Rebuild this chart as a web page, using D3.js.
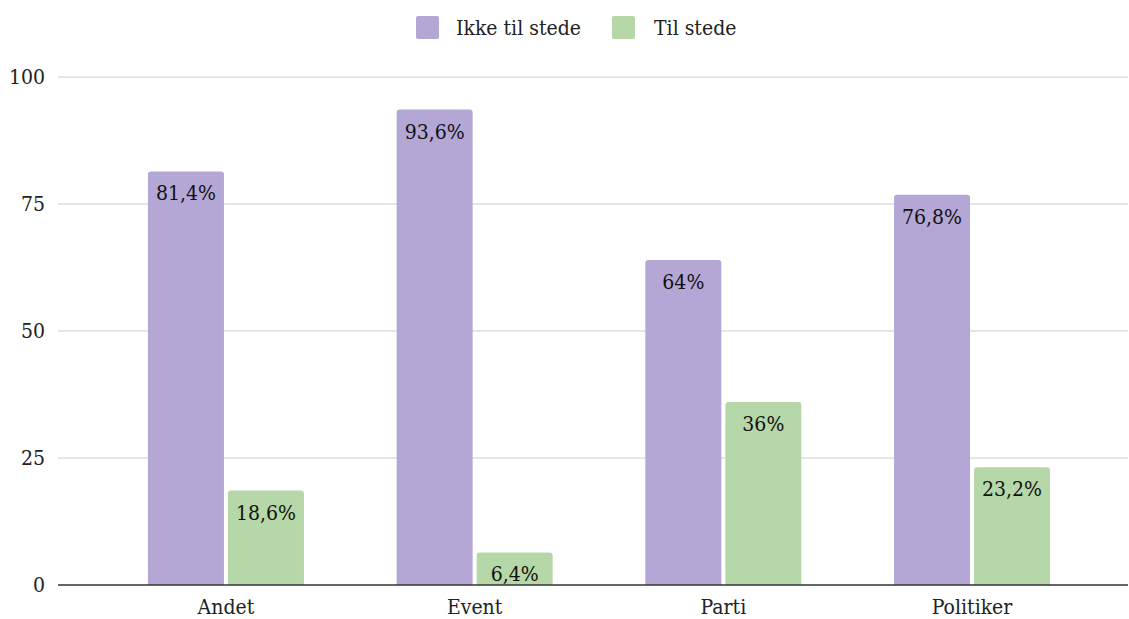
<!DOCTYPE html>
<html>
<head>
<meta charset="utf-8">
<script src="https://cdn.jsdelivr.net/npm/d3@7"></script>
<style>
  html, body { margin: 0; padding: 0; background: #fff; }
</style>
</head>
<body>
<svg id="chart" width="1129" height="619"></svg>
<script>
// Data
const categories = ["Andet", "Event", "Parti", "Politiker"];
const seriesNames = ["Ikke til stede", "Til stede"];
const ikkeTilStede = [81.4, 93.6, 64, 76.8];
const tilStede = [18.6, 6.4, 36, 23.2];
const yTicks = [0, 25, 50, 75, 100];
const colors = ["#b4a7d6", "#b6d7a8"];

const series = [ikkeTilStede, tilStede];
const fmt = v => String(v).replace(".", ",") + "%";

const svg = d3.select("#chart");
const fontSize = 21;
const serif = "'DejaVu Serif Condensed', 'DejaVu Serif', serif";

// Plot area
const gridLeft = 58, gridRight = 1128;
const yTop = 77, yBottom = 585;

const y = d3.scaleLinear().domain([0, 100]).range([yBottom, yTop]);

const x0 = d3.scaleBand().domain(categories).range([101.6, 1096.4]).paddingInner(0).paddingOuter(0);
const x1 = d3.scaleBand().domain(seriesNames)
  .range([(x0.bandwidth() - 156) / 2, (x0.bandwidth() + 156) / 2])
  .paddingInner(0.05).paddingOuter(0);

// Gridlines
svg.append("g").selectAll("line").data(yTicks.filter(d => d !== 0)).join("line")
  .attr("x1", gridLeft).attr("x2", gridRight)
  .attr("y1", d => y(d)).attr("y2", d => y(d))
  .attr("stroke", "#cccccc").attr("stroke-width", 1.2);

// Y tick labels
svg.append("g").selectAll("text").data(yTicks).join("text")
  .attr("x", 45).attr("y", d => y(d))
  .attr("dy", "0.35em")
  .attr("text-anchor", "end")
  .style("font-family", serif)
  .attr("font-size", fontSize)
  .attr("fill", "#222")
  .text(d => d);

// Bars with rounded top corners
function barPath(xl, w, yt, yb, r) {
  r = Math.min(r, (yb - yt), w / 2);
  return `M${xl},${yb}V${yt + r}Q${xl},${yt} ${xl + r},${yt}H${xl + w - r}Q${xl + w},${yt} ${xl + w},${yt + r}V${yb}Z`;
}

const groups = svg.append("g").selectAll("g").data(categories).join("g")
  .attr("transform", d => `translate(${x0(d)},0)`);

groups.each(function(cat, ci) {
  const g = d3.select(this);
  seriesNames.forEach((s, si) => {
    const v = series[si][ci];
    const bx = x1(s), bw = x1.bandwidth();
    g.append("path")
      .attr("d", barPath(bx, bw, y(v), y(0), 3))
      .attr("fill", colors[si]);
    g.append("text")
      .attr("x", bx + bw / 2)
      .attr("y", y(v) + 29)
      .attr("text-anchor", "middle")
      .style("font-family", serif)
      .attr("font-size", fontSize)
      .attr("fill", "#111")
      .text(fmt(v));
  });
});

// Baseline
svg.append("line")
  .attr("x1", gridLeft).attr("x2", gridRight)
  .attr("y1", y(0)).attr("y2", y(0))
  .attr("stroke", "#333").attr("stroke-width", 1.5);

// X labels
svg.append("g").selectAll("text").data(categories).join("text")
  .attr("x", d => x0(d) + x0.bandwidth() / 2)
  .attr("y", 614)
  .attr("text-anchor", "middle")
  .style("font-family", serif)
  .attr("font-size", fontSize)
  .attr("fill", "#222")
  .text(d => d);

// Legend
const legendItems = [
  { name: seriesNames[0], color: colors[0], sx: 416, tx: 456 },
  { name: seriesNames[1], color: colors[1], sx: 612, tx: 654 }
];
const lg = svg.append("g");
legendItems.forEach(it => {
  lg.append("rect")
    .attr("x", it.sx).attr("y", 16).attr("width", 23).attr("height", 23)
    .attr("rx", 2).attr("fill", it.color);
  lg.append("text")
    .attr("x", it.tx).attr("y", 35)
    .style("font-family", serif)
    .attr("font-size", fontSize)
    .attr("fill", "#222")
    .text(it.name);
});
</script>
</body>
</html>
